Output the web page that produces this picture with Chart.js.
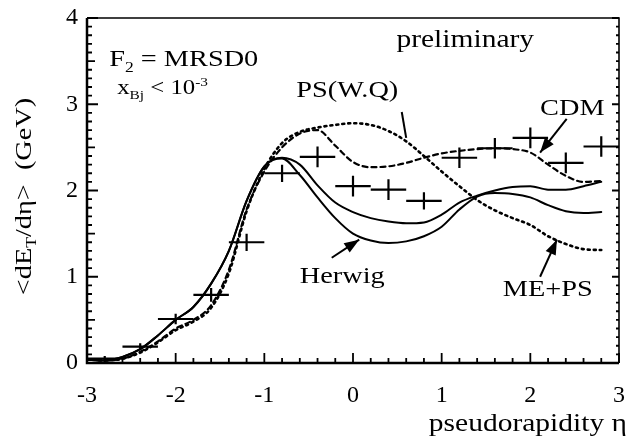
<!DOCTYPE html>
<html>
<head>
<meta charset="utf-8">
<script src="https://cdn.jsdelivr.net/npm/chart.js@4.4.0/dist/chart.umd.min.js"></script>
<style>
  html, body { margin: 0; padding: 0; background: #fff; }
</style>
</head>
<body>
<canvas id="chart" width="627" height="436"></canvas>
<script>
// measured points (centre of each 0.4 wide eta bin)
const etaBins = [-2.8, -2.4, -2.0, -1.6, -1.2, -0.8, -0.4, 0.0, 0.4, 0.8, 1.2, 1.6, 2.0, 2.4, 2.8];
const etData  = [0.05, 0.19, 0.51, 0.79, 1.40, 2.20, 2.39, 2.05, 2.01, 1.88, 2.38, 2.49, 2.61, 2.32, 2.51];
const etErr   = [0.03, 0.04, 0.06, 0.08, 0.10, 0.10, 0.12, 0.12, 0.12, 0.10, 0.12, 0.12, 0.12, 0.12, 0.12];
const binHalf = 0.2;

const etaGrid = [-3.0, -2.8, -2.6, -2.4, -2.2, -2.0, -1.8, -1.6, -1.4, -1.2, -1.0, -0.8, -0.6, -0.4, -0.2,
                  0.0,  0.2,  0.4,  0.6,  0.8,  1.0,  1.2,  1.4,  1.6,  1.8,  2.0,  2.2,  2.4,  2.6,  2.8];
const herwig  = [0.04, 0.03, 0.07, 0.16, 0.32, 0.50, 0.65, 0.92, 1.30, 1.88, 2.28, 2.37, 2.18, 1.92, 1.68,
                 1.50, 1.42, 1.39, 1.41, 1.47, 1.58, 1.78, 1.93, 1.97, 1.96, 1.92, 1.83, 1.76, 1.74, 1.75];
const mePs    = [0.04, 0.03, 0.07, 0.16, 0.32, 0.50, 0.65, 0.92, 1.30, 1.88, 2.28, 2.38, 2.30, 2.06, 1.86,
                 1.75, 1.68, 1.64, 1.62, 1.63, 1.72, 1.86, 1.94, 2.00, 2.04, 2.05, 2.01, 2.01, 2.05, 2.10];
const cdm     = [0.04, 0.03, 0.05, 0.13, 0.25, 0.40, 0.50, 0.67, 1.08, 1.78, 2.22, 2.50, 2.66, 2.70, 2.52,
                 2.33, 2.27, 2.28, 2.32, 2.38, 2.43, 2.46, 2.48, 2.49, 2.48, 2.44, 2.30, 2.17, 2.10, 2.11];
const psWQ    = [0.04, 0.03, 0.05, 0.12, 0.24, 0.38, 0.48, 0.64, 1.04, 1.76, 2.25, 2.55, 2.68, 2.73, 2.76,
                 2.78, 2.76, 2.69, 2.57, 2.40, 2.22, 2.05, 1.89, 1.77, 1.68, 1.60, 1.47, 1.38, 1.32, 1.31];

const xTicks = [-3, -2, -1, 0, 1, 2, 3];
const yTicks = [0, 1, 2, 3, 4];

const SERIF = '"Liberation Serif", "Times New Roman", serif';
const STRETCH = 1.18; // the scanned lettering is wider than Times

function curve(ys) {
    return etaGrid.map((x, i) => ({ x: x, y: ys[i] }));
}

function lineSet(label, ys, dash, width) {
    return {
        label: label,
        data: curve(ys),
        showLine: true,
        borderColor: '#000',
        borderWidth: width,
        borderDash: dash,
        borderCapStyle: 'round',
        pointRadius: 0,
        cubicInterpolationMode: 'monotone',
        fill: false
    };
}

// text made of parts: [string, 'n' | 'sub' | 'sup']
function richWidth(ctx, parts, size) {
    let w = 0;
    parts.forEach(([t, k]) => {
        ctx.font = (k === 'n' ? size : size * 0.62) + 'px ' + SERIF;
        w += ctx.measureText(t).width;
    });
    return w * STRETCH;
}

function drawRich(ctx, parts, x, y, size, align, rotate) {
    const w = richWidth(ctx, parts, size);
    ctx.save();
    ctx.translate(x, y);
    if (rotate) ctx.rotate(-Math.PI / 2);
    let start = 0;
    if (align === 'right') start = -w;
    if (align === 'center') start = -w / 2;
    ctx.translate(start, 0);
    ctx.scale(STRETCH, 1);
    ctx.fillStyle = '#000';
    ctx.textBaseline = 'alphabetic';
    ctx.textAlign = 'left';
    let cx = 0;
    parts.forEach(([t, k]) => {
        const fs = k === 'n' ? size : size * 0.62;
        const dy = k === 'sub' ? size * 0.22 : (k === 'sup' ? -size * 0.36 : 0);
        ctx.font = fs + 'px ' + SERIF;
        ctx.fillText(t, cx, dy);
        cx += ctx.measureText(t).width;
    });
    ctx.restore();
}

function arrow(ctx, x1, y1, x2, y2, head) {
    ctx.beginPath();
    ctx.moveTo(x1, y1);
    ctx.lineTo(x2, y2);
    ctx.stroke();
    if (!head) return;
    const a = Math.atan2(y2 - y1, x2 - x1);
    const L = 15, W = 5.5;
    ctx.beginPath();
    ctx.moveTo(x2, y2);
    ctx.lineTo(x2 - L * Math.cos(a) + W * Math.sin(a), y2 - L * Math.sin(a) - W * Math.cos(a));
    ctx.lineTo(x2 - L * Math.cos(a) - W * Math.sin(a), y2 - L * Math.sin(a) + W * Math.cos(a));
    ctx.closePath();
    ctx.fill();
}

// labels and pointers, in data coordinates
const labels = [
    { parts: [['F', 'n'], ['2', 'sub'], [' = MRSD0', 'n']], x: -2.75, y: 3.44, size: 24 },
    { parts: [['x', 'n'], ['Bj', 'sub'], [' < 10', 'n'], ['-3', 'sup']], x: -2.66, y: 3.12, size: 21 },
    { parts: [['preliminary', 'n']], x: 0.49, y: 3.66, size: 25 },
    { parts: [['PS(W.Q)', 'n']], x: -0.64, y: 3.08, size: 24 },
    { parts: [['CDM', 'n']], x: 2.11, y: 2.87, size: 24 },
    { parts: [['Herwig', 'n']], x: -0.60, y: 0.93, size: 24 },
    { parts: [['ME+PS', 'n']], x: 1.69, y: 0.78, size: 24 }
];
const pointers = [
    { from: [0.55, 2.91], to: [0.60, 2.61], head: false },
    { from: [2.41, 2.83], to: [2.11, 2.44], head: true },
    { from: [-0.24, 1.22], to: [0.07, 1.43], head: true },
    { from: [2.11, 1.00], to: [2.30, 1.43], head: true }
];

const decorations = {
    id: 'decorations',
    afterDatasetsDraw(chart) {
        const ctx = chart.ctx;
        const xs = chart.scales.x, ys = chart.scales.y;
        const area = chart.chartArea;
        ctx.save();
        ctx.strokeStyle = '#000';
        ctx.fillStyle = '#000';

        // data crosses
        ctx.lineWidth = 2.2;
        etaBins.forEach((eta, i) => {
            const cx = xs.getPixelForValue(eta);
            const cy = ys.getPixelForValue(etData[i]);
            ctx.beginPath();
            ctx.moveTo(xs.getPixelForValue(eta - binHalf), cy);
            ctx.lineTo(xs.getPixelForValue(eta + binHalf), cy);
            ctx.moveTo(cx, ys.getPixelForValue(etData[i] - etErr[i]));
            ctx.lineTo(cx, ys.getPixelForValue(etData[i] + etErr[i]));
            ctx.stroke();
        });

        // frame
        ctx.lineWidth = 2.5;
        ctx.beginPath();
        ctx.moveTo(area.left, area.top);
        ctx.lineTo(area.left, area.bottom);
        ctx.lineTo(area.right, area.bottom);
        ctx.stroke();
        ctx.lineWidth = 1.6;
        ctx.beginPath();
        ctx.moveTo(area.left, area.top);
        ctx.lineTo(area.right, area.top);
        ctx.lineTo(area.right, area.bottom);
        ctx.stroke();

        // inward tick marks
        ctx.lineWidth = 1.8;
        for (let i = 0; i <= 30; i++) {
            const px = xs.getPixelForValue(xs.min + i * 0.2);
            const len = i % 5 === 0 ? 10 : 5;
            ctx.beginPath();
            ctx.moveTo(px, area.bottom);
            ctx.lineTo(px, area.bottom - len);
            ctx.stroke();
        }
        for (let i = 0; i <= 40; i++) {
            const py = ys.getPixelForValue(i * 0.1);
            const len = i % 10 === 0 ? 11 : (i % 5 === 0 ? 8 : 5);
            ctx.beginPath();
            ctx.moveTo(area.left, py);
            ctx.lineTo(area.left + len, py);
            ctx.moveTo(area.right, py);
            ctx.lineTo(area.right - (i % 10 === 0 ? 7 : 3), py);
            ctx.stroke();
        }

        // pointers
        ctx.lineWidth = 2;
        pointers.forEach(p => {
            arrow(ctx,
                xs.getPixelForValue(p.from[0]), ys.getPixelForValue(p.from[1]),
                xs.getPixelForValue(p.to[0]), ys.getPixelForValue(p.to[1]), p.head);
        });

        // text inside the plot
        labels.forEach(l => {
            drawRich(ctx, l.parts, xs.getPixelForValue(l.x), ys.getPixelForValue(l.y), l.size, 'left', false);
        });

        // axis titles
        drawRich(ctx, [['pseudorapidity \u03b7', 'n']], chart.width, chart.height - 5, 25, 'right', false);
        drawRich(ctx, [['<dE', 'n'], ['T', 'sub'], ['/d\u03b7>  (GeV)', 'n']],
            31, (area.top + area.bottom) / 2 + 6, 24, 'center', true);
        ctx.restore();
    }
};

new Chart(document.getElementById('chart'), {
    type: 'scatter',
    data: {
        datasets: [
            lineSet('Herwig', herwig, [], 2),
            lineSet('ME+PS', mePs, [], 2),
            lineSet('CDM', cdm, [5, 4], 2.2),
            lineSet('PS(W.Q)', psWQ, [2, 4], 2.6)
        ]
    },
    options: {
        responsive: false,
        animation: false,
        devicePixelRatio: 1,
        layout: { padding: { top: 18, right: 8, left: 0, bottom: 0 } },
        plugins: { legend: { display: false }, tooltip: { enabled: false } },
        scales: {
            x: {
                type: 'linear', min: -3, max: 3,
                afterBuildTicks: s => { s.ticks = xTicks.map(v => ({ value: v })); },
                afterFit: s => { s.height = 73; s.paddingLeft = 0; s.paddingRight = 0; },
                grid: { display: false, drawTicks: false },
                border: { display: false },
                ticks: { color: '#000', padding: 18, font: { family: SERIF, size: 24 } }
            },
            y: {
                type: 'linear', min: 0, max: 4,
                afterBuildTicks: s => { s.ticks = yTicks.map(v => ({ value: v })); },
                afterFit: s => { s.width = 87; s.paddingTop = 0; s.paddingBottom = 0; },
                grid: { display: false, drawTicks: false },
                border: { display: false },
                ticks: { color: '#000', padding: 9, font: { family: SERIF, size: 24 } }
            }
        }
    },
    plugins: [decorations]
});
</script>
</body>
</html>
